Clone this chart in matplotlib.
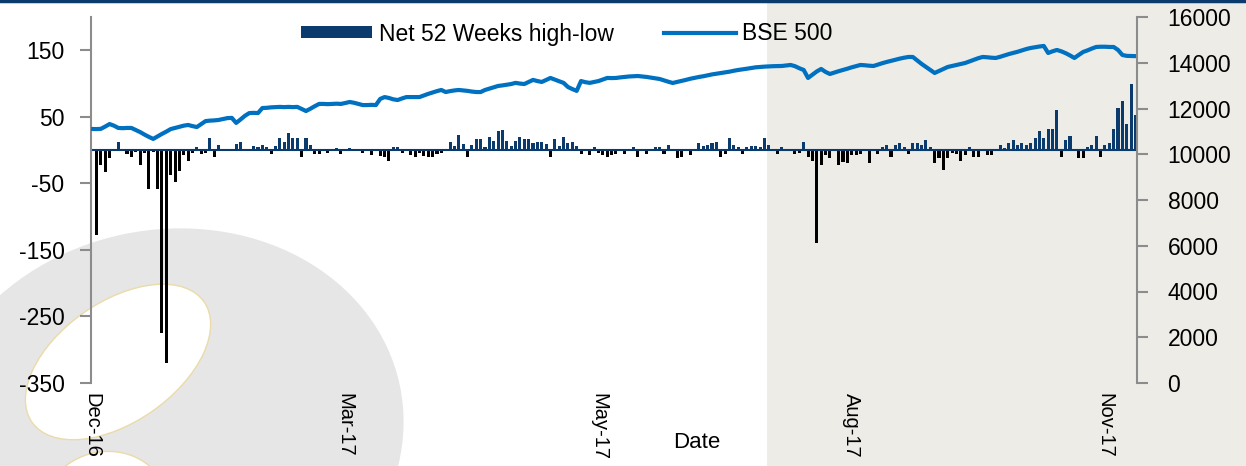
import matplotlib.pyplot as plt
from matplotlib.patches import Ellipse, Rectangle, Patch
from matplotlib.lines import Line2D
import numpy as np

plt.rcParams['font.family'] = ['Liberation Sans', 'DejaVu Sans']
plt.rcParams['axes.unicode_minus'] = False

tick_pos = [0, 58, 116, 174, 232]
tick_labels = ["Dec-16", "Mar-17", "May-17", "Aug-17", "Nov-17"]

# net count of stocks at 52-week highs minus 52-week lows, per trading day
net_high_low = [
    0,
    -127, -23, -33, -12, -2, 12, 0, -6, -11, -3,
    -22, -4, -58, -3, -58, -275, -320, -38, -48, -31,
    -8, -17, -4, 4, -6, -5, 18, -10, 8, 0,
    2, 0, 9, 12, 0, 2, 6, 5, 8, 4,
    -6, 6, 18, 12, 25, 18, 18, -11, 18, 8,
    -6, -6, 0, -5, 0, 3, -6, 0, 3, 0,
    2, -5, 0, -7, 0, -9, -11, -16, 5, 4,
    -4, 0, -7, -11, -5, -9, -10, -10, -6, -5,
    0, 12, 6, 22, 9, -10, 8, 16, 16, 5,
    19, 14, 28, 30, 14, 6, 14, 19, 17, 16,
    10, 12, 12, 9, -10, 16, 6, 19, 10, 12,
    6, -6, 0, -7, 4, -5, -7, -11, -7, -6,
    0, -6, 0, 4, -11, 0, -6, 0, 4, 4,
    -6, 7, 0, -12, -11, 0, -8, 0, 11, 6,
    8, 11, 12, -10, -6, 18, 7, 5, -6, 4,
    6, 6, 4, 18, 8, 0, -6, 4, 0, 0,
    -6, -5, 12, -10, -17, -140, -23, -8, -12, 0,
    -22, -18, -20, -8, -8, -6, 0, -20, 0, -6,
    4, 8, -10, 8, 11, 4, -6, 11, 11, 8,
    15, 4, -20, -12, -30, -12, -5, -6, -17, -8,
    4, -10, -10, 2, -8, -8, 0, 7, 3, 11,
    15, 7, 11, 8, 11, 18, 29, 18, 31, 31,
    60, -10, 15, 21, 0, -12, -12, 4, 8, 21,
    -10, 7, 11, 31, 64, 74, 39, 99, 53,
]

# BSE 500 index close
bse500 = [
    11105, 11100, 11110, 11210, 11320, 11250, 11150, 11140, 11150, 11150,
    11060, 10970, 10860, 10760, 10670, 10780, 10890, 10990, 11100, 11150,
    11200, 11250, 11280, 11230, 11190, 11320, 11450, 11470, 11480, 11500,
    11540, 11580, 11590, 11370, 11520, 11680, 11800, 11810, 11800, 12020,
    12030, 12050, 12060, 12070, 12060, 12070, 12060, 12070, 11980, 11890,
    11990, 12100, 12200, 12200, 12190, 12200, 12210, 12200, 12240, 12285,
    12250, 12200, 12150, 12150, 12160, 12150, 12420, 12500, 12460, 12400,
    12370, 12440, 12500, 12500, 12500, 12500, 12570, 12640, 12700, 12760,
    12810, 12720, 12760, 12790, 12810, 12790, 12770, 12740, 12720, 12720,
    12810, 12870, 12930, 12985, 13010, 13040, 13070, 13120, 13090, 13070,
    13160, 13250, 13200, 13160, 13250, 13335, 13260, 13190, 13120, 12940,
    12850, 12770, 13200, 13150, 13120, 13160, 13200, 13270, 13335, 13330,
    13335, 13360, 13380, 13400, 13410, 13420, 13400, 13380, 13350, 13320,
    13290, 13230, 13170, 13116, 13160, 13200, 13250, 13300, 13340, 13378,
    13410, 13450, 13490, 13520, 13553, 13580, 13610, 13650, 13684, 13710,
    13740, 13770, 13800, 13816, 13830, 13840, 13850, 13855, 13859, 13880,
    13903, 13850, 13760, 13684, 13335, 13480, 13620, 13728, 13600, 13509,
    13570, 13630, 13684, 13740, 13800, 13850, 13903, 13890, 13870, 13859,
    13920, 13980, 14034, 14080, 14130, 14180, 14220, 14253, 14253, 14100,
    13950, 13816, 13680, 13553, 13640, 13730, 13816, 13860, 13900, 13950,
    13990, 14060, 14130, 14200, 14253, 14240, 14220, 14209, 14260, 14320,
    14380, 14428, 14480, 14540, 14600, 14646, 14680, 14710, 14734, 14428,
    14500, 14559, 14500, 14420, 14320, 14209, 14340, 14471, 14540, 14620,
    14690, 14700, 14700, 14690, 14690, 14560, 14340, 14300, 14296, 14290,
]

navy = '#0B3A6C'
blue = '#0070C0'
grey = '#8C8C8C'

W, H = 1246, 466
fig = plt.figure(figsize=(W / 100, H / 100), dpi=100)

# backdrop: shaded band, watermark, top rule
bg = fig.add_axes([0, 0, 1, 1], zorder=-1)
bg.set_xlim(0, W)
bg.set_ylim(H, 0)
bg.axis('off')
bg.add_patch(Rectangle((767, 0), W - 767, H, color='#EDECE6', lw=0))
bg.add_patch(Ellipse((165, 435), 480, 410, angle=-12, color='#E6E6E6', lw=0))
bg.add_patch(Ellipse((118, 362), 210, 120, angle=-35, facecolor='white',
                     edgecolor='#EADBA8', lw=1))
bg.add_patch(Ellipse((105, 512), 130, 120, angle=-20, facecolor='white',
                     edgecolor='#EADBA8', lw=1))
bg.plot([0, W], [1, 1], color=navy, lw=2.5)

ax = fig.add_axes([91 / W, 1 - 383 / H, (1137 - 91) / W, 366 / H])
ax.set_facecolor('none')
x = np.arange(len(net_high_low))
vals = np.array(net_high_low)
colors = np.where(vals < 0, 'black', navy)
ax.bar(x, vals, width=0.7, color=colors, lw=0)
ax.axhline(0, color=navy, lw=1.5)
ax.set_ylim(-350, 200)
ax.set_xlim(-0.25, 239.35)
ax.set_yticks([-350, -250, -150, -50, 50, 150])
ax.set_xticks(tick_pos, tick_labels, rotation=270)
ax.tick_params(axis='x', length=0, pad=7, labelsize=14.5)
ax.tick_params(axis='y', direction='out', length=8, width=1.5, color=grey,
               labelsize=16.5, pad=11)
for s in ['top', 'right', 'bottom']:
    ax.spines[s].set_visible(False)
ax.spines['left'].set_color(grey)
ax.spines['left'].set_linewidth(1.5)

ax2 = ax.twinx()
ax2.plot(np.arange(len(bse500)), bse500, color=blue, lw=3,
         solid_capstyle='round')
ax2.set_ylim(0, 16000)
ax2.set_yticks(np.arange(0, 16001, 2000))
ax2.tick_params(axis='y', direction='out', length=8, width=1.5, color=grey,
                labelsize=16.5, pad=14)
for s in ['top', 'left', 'bottom']:
    ax2.spines[s].set_visible(False)
ax2.spines['right'].set_color(grey)
ax2.spines['right'].set_linewidth(1.5)

fig.text(697 / W, 1 - 443 / H, "Date", ha='center', va='center', fontsize=16)

handles = [Patch(facecolor=navy, lw=0), Line2D([], [], color=blue, lw=3)]
fig.legend(handles, ["Net 52 Weeks high-low", "BSE 500"], ncol=2,
           loc='center', bbox_to_anchor=(567 / W, 1 - 34 / H), frameon=False,
           fontsize=16.5, handlelength=3.1, handleheight=0.45,
           handletextpad=0.3, columnspacing=2.2)

fig.savefig('out.png', dpi=100)
